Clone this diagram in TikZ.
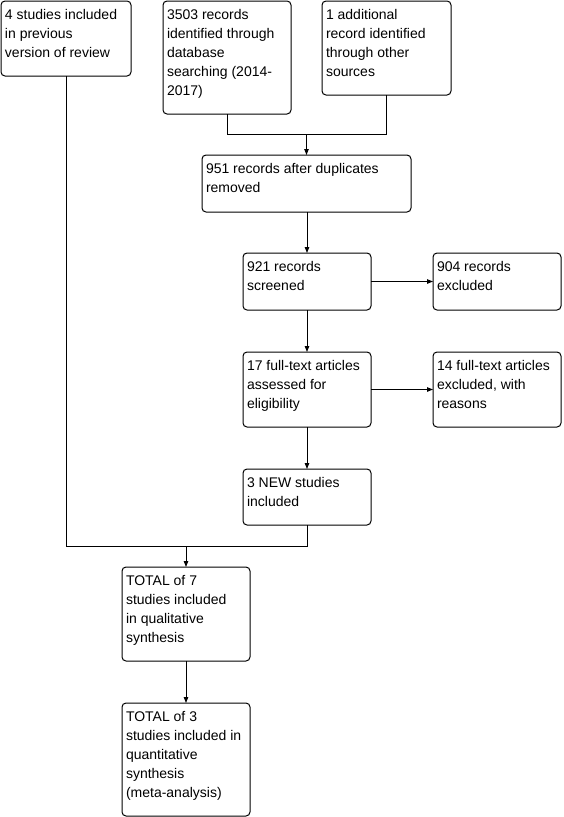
\documentclass[tikz,border=0pt]{standalone}
\usepackage{fontspec}
\setmainfont{Liberation Sans}
\usetikzlibrary{arrows.meta}
\newcommand{\bt}[3]{\parbox[c][#2pt][t]{\dimexpr#1pt-8pt\relax}{\raggedright\fontsize{14}{19}\selectfont\rule{0pt}{18pt}#3}}
\begin{document}
\begin{tikzpicture}[x=1pt,y=-1pt,
  box/.style={draw=black,line width=1pt,rounded corners=4pt,inner sep=0pt,outer sep=0pt,anchor=center},
  conn/.style={draw=black,line width=1pt},
  arr/.style={conn,-{Triangle[width=4.5pt,length=6pt]}}]
\useasboundingbox (0,0) rectangle (564,817);
\node[box,minimum width=130pt,minimum height=75pt] (b1) at (66,38.5) {\bt{130}{75}{4 studies included\\in previous\\version of review}};
\node[box,minimum width=128pt,minimum height=113pt] (b2) at (227,57.5) {\bt{128}{113}{3503 records\\identified through\\database\\searching (2014-\\2017)}};
\node[box,minimum width=129pt,minimum height=94pt] (b3) at (386.5,48) {\bt{129}{94}{1 additional\\record identified\\through other\\sources}};
\node[box,minimum width=209pt,minimum height=57pt] (b4) at (306.5,183.5) {\bt{209}{57}{951 records after duplicates\\removed}};
\node[box,minimum width=128pt,minimum height=57pt] (b5) at (307,281.5) {\bt{128}{57}{921 records\\screened}};
\node[box,minimum width=128pt,minimum height=57pt] (b6) at (497,281.5) {\bt{128}{57}{904 records\\excluded}};
\node[box,minimum width=128pt,minimum height=75pt] (b7) at (307,389.5) {\bt{128}{75}{17 full-text articles\\assessed for\\eligibility}};
\node[box,minimum width=128pt,minimum height=75pt] (b8) at (497,389.5) {\bt{128}{75}{14 full-text articles\\excluded, with\\reasons}};
\node[box,minimum width=128pt,minimum height=56pt] (b9) at (307,497) {\bt{128}{56}{3 NEW studies\\included}};
\node[box,minimum width=128pt,minimum height=94pt] (b10) at (186,614) {\bt{128}{94}{TOTAL of 7\\studies included\\in qualitative\\synthesis}};
\node[box,minimum width=128pt,minimum height=113pt] (b11) at (186,759.5) {\bt{128}{113}{TOTAL of 3\\studies included in\\quantitative\\synthesis\\(meta-analysis)}};
\coordinate (m1) at (306.5,134.5);
\coordinate (m2) at (186,546.5);
\draw[conn] (b2.south) |- (m1) -| (b3.south);
\draw[arr] (m1) -- (b4.north);
\draw[arr] (b4.south -| b5.north) -- (b5.north);
\draw[arr] (b5.east) -- (b6.west);
\draw[arr] (b5.south) -- (b7.north);
\draw[arr] (b7.east) -- (b8.west);
\draw[arr] (b7.south) -- (b9.north);
\draw[conn] (b1.south) |- (m2) -| (b9.south);
\draw[arr] (m2) -- (b10.north);
\draw[arr] (b10.south) -- (b11.north);
\end{tikzpicture}
\end{document}
